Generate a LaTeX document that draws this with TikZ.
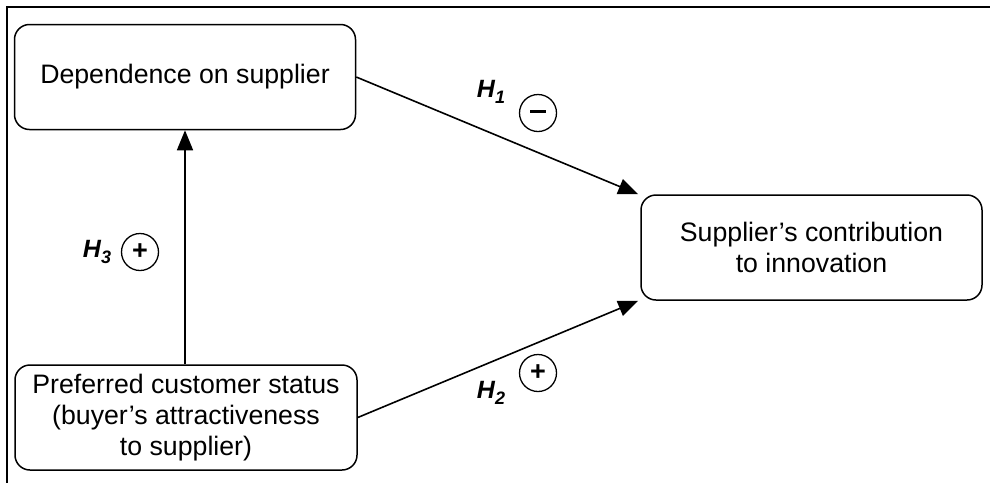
\documentclass[tikz,border=0pt]{standalone}
\usepackage{fontspec}
\setmainfont{Liberation Sans}
\usetikzlibrary{arrows.meta}
\tikzset{
  box/.style={draw, line width=1.5pt, rounded corners=15pt, minimum width=341pt, minimum height=105pt, align=center, font=\fontsize{26.7}{31}\selectfont, inner sep=0pt},
  conn/.style={line width=1.6pt, -{Triangle[length=20pt,width=16pt]}},
  hlab/.style={font=\fontsize{25}{28}\selectfont\bfseries\itshape, inner sep=0pt},
  sign/.style={draw, circle, line width=1.3pt, minimum size=37pt, inner sep=0pt, font=\fontsize{27}{28}\selectfont\bfseries},
  frame/.style={line width=2.5pt}
}
\newcommand{\hsub}[1]{\raisebox{-6pt}{\fontsize{18}{18}\selectfont #1}}
\begin{document}
\begin{tikzpicture}[x=1pt,y=-1pt]
\useasboundingbox (0,0) rectangle (990,483);
\coordinate (ftl) at (7,7);
\coordinate (ftr) at (990,7);
\coordinate (fbl) at (7,483);
\draw[frame] (ftr) -- (ftl) -- (fbl);
\node[box] (dep) at (185,77) {Dependence on supplier};
\node[box, minimum width=342pt] (pref) at (186,417.5) {Preferred customer status\\(buyer’s attractiveness\hspace{12pt}\\to supplier)};
\node[box] (sup) at (811.5,247.5) {Supplier’s contribution\\to innovation};
\draw[conn] (dep.south |- pref.north) -- (dep.south);
\draw[conn] (dep.east) -- ([xshift=-2pt]sup.north west);
\draw[conn] (pref.east) -- ([xshift=-2pt]sup.south west);
\node[hlab] (h1) at (491,92) {H\hsub{1}};
\node[sign] (s1) at (538,113) {\rule[3pt]{16pt}{3.2pt}};
\node[hlab] (h3) at (97,252) {H\hsub{3}};
\node[sign] (s3) at (140,252) {+};
\node[hlab] (h2) at (491,393) {H\hsub{2}};
\node[sign] (s2) at (538,373) {+};
\end{tikzpicture}
\end{document}
